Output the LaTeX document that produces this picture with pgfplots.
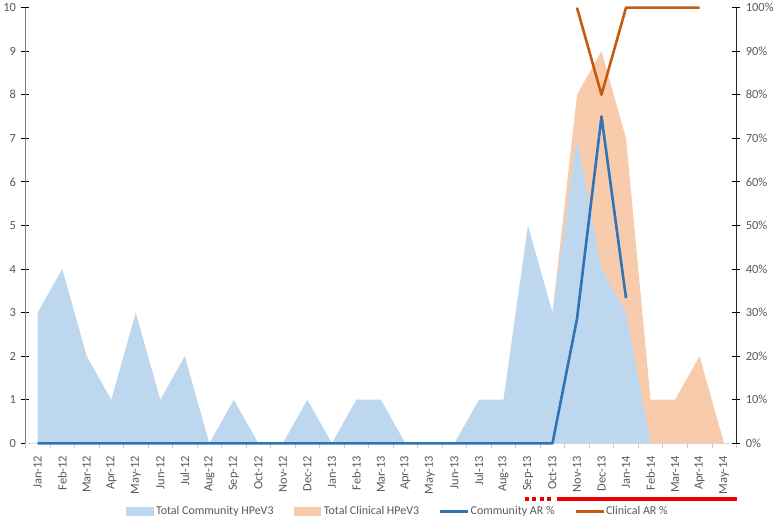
\documentclass[border=0pt]{standalone}
\usepackage{pgfplots}
\pgfplotsset{compat=1.18}
\usepackage{fontspec}
\setmainfont{Carlito}
\definecolor{commA}{HTML}{BDD7EE}
\definecolor{clinA}{HTML}{F8CBAD}
\definecolor{commL}{HTML}{2E75B6}
\definecolor{clinL}{HTML}{C55A11}
\definecolor{txt}{HTML}{595959}
\definecolor{redbar}{HTML}{EE0000}
\begin{document}
\begin{tikzpicture}[font=\fontsize{12}{14}\selectfont]
\pgfplotsset{
  common/.style={
    scale only axis, width=713pt, height=437pt,
    xmin=-0.5, xmax=28.5,
    /pgf/number format/assume math mode=true,
    tick label style={text=txt, font=\fontsize{12.5}{14}\selectfont},
    ytick align=center, major tick length=8pt,
  }
}
\begin{axis}[common,
  ymin=0, ymax=10, ytick={0,1,...,10},
  axis y line*=left, axis x line*=bottom,
  y axis line style={draw=black!50, line width=1.2pt},
  x axis line style={draw=black!15, line width=0.8pt},
  ytick style={draw=black, line width=0.8pt},
  yticklabel style={xshift=-2pt},
  xtick={0,...,28},
  xticklabels={Jan-12,Feb-12,Mar-12,Apr-12,May-12,Jun-12,Jul-12,Aug-12,Sep-12,Oct-12,Nov-12,Dec-12,Jan-13,Feb-13,Mar-13,Apr-13,May-13,Jun-13,Jul-13,Aug-13,Sep-13,Oct-13,Nov-13,Dec-13,Jan-14,Feb-14,Mar-14,Apr-14,May-14},
  xticklabel style={rotate=90, anchor=east, yshift=0pt, xshift=-1pt},
  xtick style={draw=none},
  minor xtick={-0.5,0.5,...,28.5},
  minor x tick style={draw=black!20, line width=0.6pt},
  minor tick length=5pt, xtick align=outside,
  clip=false,
]
\addplot[fill=clinA, draw=none] coordinates {
(0,0) (1,0) (2,0) (3,0) (4,0) (5,0) (6,0) (7,0) (8,0) (9,0) (10,0) (11,0) (12,0) (13,0) (14,0) (15,0) (16,0) (17,0) (18,0) (19,0) (20,0)
(21,3) (22,8) (23,9) (24,7) (25,1) (26,1) (27,2) (28,0)} \closedcycle;
\addplot[fill=commA, draw=none] coordinates {
(0,3) (1,4) (2,2) (3,1) (4,3) (5,1) (6,2) (7,0) (8,1) (9,0) (10,0) (11,1) (12,0) (13,1) (14,1) (15,0) (16,0) (17,0) (18,1) (19,1) (20,5)
(21,3) (22,7) (23,4) (24,3) (25,0) (26,0) (27,0) (28,0)} \closedcycle;
% timeline bars below the axis
\addplot[redbar, line width=4pt, dash pattern=on 4pt off 3.3pt] coordinates {(19.88,-1.28) (20.95,-1.28)};
\addplot[redbar, line width=4pt] coordinates {(21.18,-1.28) (28.54,-1.28)};
\end{axis}
\begin{axis}[common,
  ymin=0, ymax=100, ytick={0,10,...,100},
  yticklabel={\pgfmathprintnumber{\tick}\%},
  axis y line*=right, axis x line=none,
  y axis line style={draw=black!85, line width=0.9pt},
  ytick style={draw=black, line width=0.8pt},
  yticklabel style={xshift=2pt},
  clip=false,
  legend style={at={(0.523,-0.156)}, anchor=center, draw=none, fill=none,
    legend columns=4, font=\fontsize{12}{14}\selectfont, text=txt,
    nodes={inner sep=1pt},
    /tikz/every even column/.append style={column sep=19pt}},
]
\addlegendimage{legend image code/.code={\fill[commA] (0pt,-4pt) rectangle (27pt,4pt); \path (29pt,0pt);}}
\addlegendentry{Total Community HPeV3}
\addlegendimage{legend image code/.code={\fill[clinA] (0pt,-4pt) rectangle (27pt,4pt); \path (29pt,0pt);}}
\addlegendentry{Total Clinical HPeV3}
\addplot[commL, line width=2.6pt, line join=round,
  legend image code/.code={\draw[commL, line width=2.6pt] (0pt,0pt) -- (28pt,0pt);}] coordinates {
(0,0) (1,0) (2,0) (3,0) (4,0) (5,0) (6,0) (7,0) (8,0) (9,0) (10,0) (11,0) (12,0) (13,0) (14,0) (15,0) (16,0) (17,0) (18,0) (19,0) (20,0)
(21,0) (22,28.57) (23,75) (24,33.33)};
\addlegendentry{Community AR \%}
\addplot[clinL, line width=2.6pt, line join=round,
  legend image code/.code={\draw[clinL, line width=2.6pt] (0pt,0pt) -- (28pt,0pt);}] coordinates {
(22,100) (23,80) (24,100) (25,100) (26,100) (27,100)};
\addlegendentry{Clinical AR \%}
\end{axis}
\end{tikzpicture}
\end{document}
